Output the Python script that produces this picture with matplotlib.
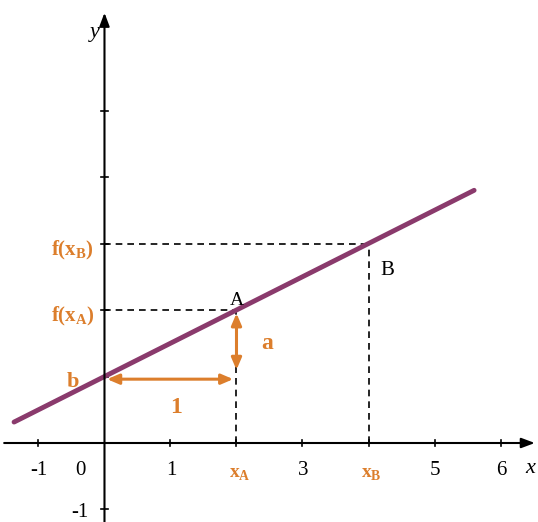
import matplotlib.pyplot as plt
import numpy as np

# Data
slope = 0.5
intercept = 1.0
x_line = [-1.37, 5.6]
xA, xB = 2, 4
x_ticks = [-1, 1, 2, 3, 4, 5, 6]
x_tick_labels = ['-1', '1', 'xA', '3', 'xB', '5', '6']
y_ticks = [-1, 1, 2, 3, 4, 5]

def f(x):
    return slope * np.asarray(x) + intercept

orange = '#DC7E2C'
purple = '#8A3A6C'
serif = 'Liberation Serif'

fig = plt.figure(figsize=(5.38, 5.22), dpi=100)
ax = fig.add_axes([0, 0, 1, 1])
ax.set_xlim(-1.583, 6.568)
ax.set_ylim(-1.188, 6.662)
ax.axis('off')

# axes with arrows
ax.annotate('', xy=(6.52, 0), xytext=(-1.52, 0),
            arrowprops=dict(arrowstyle='-|>,head_length=0.8,head_width=0.3', color='black', lw=1.5,
                            shrinkA=0, shrinkB=0))
ax.annotate('', xy=(0, 6.47), xytext=(0, -1.25),
            arrowprops=dict(arrowstyle='-|>,head_length=0.8,head_width=0.3', color='black', lw=1.5,
                            shrinkA=0, shrinkB=0))

# ticks
for t in x_ticks:
    ax.plot([t, t], [-0.05, 0.05], color='black', lw=1.2)
for t in y_ticks:
    ax.plot([-0.05, 0.05], [t, t], color='black', lw=1.2)

# tick labels
for t, lab in zip(x_ticks, x_tick_labels):
    if lab.startswith('x'):
        ax.text(t + 0.05, -0.47, r'$\mathregular{x}_{\mathregular{%s}}$' % lab[1], color=orange,
                fontsize=14, ha='center', va='center', family=serif, fontweight='bold')
    else:
        ax.text(t + 0.01, -0.41, lab, fontsize=15, ha='center', va='center', family=serif)
ax.text(-0.36, -0.41, '0', fontsize=15, ha='center', va='center', family=serif)
ax.text(-0.38, -1.04, '-1', fontsize=15, ha='center', va='center', family=serif)
ax.text(6.45, -0.39, 'x', fontsize=16, ha='center', va='center', family=serif, style='italic')
ax.text(-0.14, 6.17, 'y', fontsize=16, ha='center', va='center', family=serif, style='italic')

# dashed guides
yA, yB = float(f(xA)), float(f(xB))
ax.plot([0, xB], [yB, yB], ls=(0, (4, 3)), color='black', lw=1.2)
ax.plot([xB, xB], [0, yB], ls=(0, (4, 3)), color='black', lw=1.2)
ax.plot([0, xA], [yA, yA], ls=(0, (4, 3)), color='black', lw=1.2)
ax.plot([xA, xA], [0, yA], ls=(0, (4, 3)), color='black', lw=1.2)

# main line
ax.plot(x_line, f(x_line), color=purple, lw=3.5, solid_capstyle='round')

# arrows
ax.annotate('', xy=(0.04, intercept - 0.04), xytext=(xA - 0.05, intercept - 0.04),
            arrowprops=dict(arrowstyle='<|-|>,head_length=0.7,head_width=0.3', color=orange, lw=2.2,
                            shrinkA=0, shrinkB=0))
ax.annotate('', xy=(xA, yA - 0.05), xytext=(xA, intercept + 0.1),
            arrowprops=dict(arrowstyle='<|-|>,head_length=0.7,head_width=0.3', color=orange, lw=2.2,
                            shrinkA=0, shrinkB=0))

# labels
ax.text(-0.48, yB - 0.1, r'f(x$_\mathregular{B}$)', color=orange, fontsize=15, ha='center', va='center',
        family=serif, fontweight='bold')
ax.text(-0.48, yA - 0.1, r'f(x$_\mathregular{A}$)', color=orange, fontsize=15, ha='center', va='center',
        family=serif, fontweight='bold')
ax.text(-0.48, intercept - 0.08, 'b', color=orange, fontsize=16, ha='center', va='center',
        family=serif, fontweight='bold')
ax.text(1.08, 0.53, '1', color=orange, fontsize=17, ha='center', va='center',
        family=serif, fontweight='bold')
ax.text(2.46, 1.5, 'a', color=orange, fontsize=17, ha='center', va='center',
        family=serif, fontweight='bold')
ax.text(xA, yA + 0.15, 'A', fontsize=14, ha='center', va='center', family=serif)
ax.text(4.28, 2.6, 'B', fontsize=15, ha='center', va='center', family=serif)

fig.savefig('out.png', dpi=100)
